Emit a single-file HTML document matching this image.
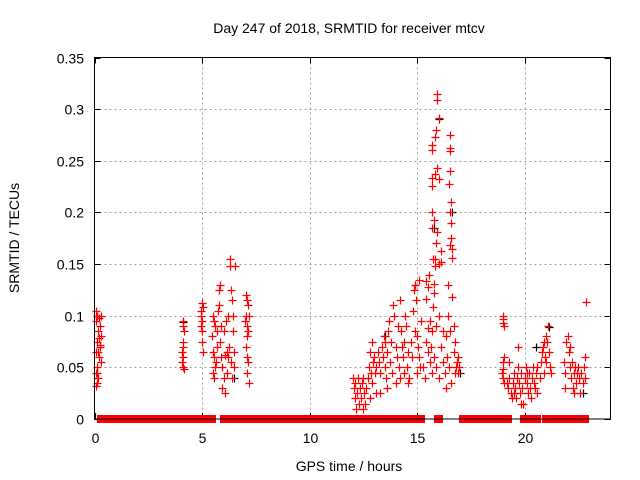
<!DOCTYPE html>
<html><head><meta charset="utf-8"><style>
html,body{margin:0;padding:0;background:#fff;}
svg{display:block;font-family:"Liberation Sans",sans-serif;}
</style></head><body>
<svg id="chart" width="640" height="480" viewBox="0 0 640 480" xmlns="http://www.w3.org/2000/svg">
<rect width="640" height="480" fill="#fff"/>
<text x="349" y="33" font-size="14" text-anchor="middle" fill="#000">Day 247 of 2018, SRMTID for receiver mtcv</text>
<text x="349" y="471" font-size="14" text-anchor="middle" fill="#000">GPS time / hours</text>
<text x="19" y="238" font-size="14" text-anchor="middle" fill="#000" transform="rotate(-90 19 238)">SRMTID / TECUs</text>
<g id="grid"></g>
<g id="ticks"></g>
<g id="zeros"></g>
<g id="marks"></g>
<rect x="94.5" y="57.5" width="516" height="361.5" fill="none" stroke="#000" stroke-width="1"/>
</svg>
<script>
const xTicks=[0,5,10,15,20];
const yTicks=[0,0.05,0.1,0.15,0.2,0.25,0.3,0.35];
const yTickLabels=["0","0.05","0.1","0.15","0.2","0.25","0.3","0.35"];
const redHours=[0.05,0.1,0.2,0.05,0.25,0.15,0.3,0.1,0.25,0.05,0.2,0.3,0.1,0.05,0.15,0.1,0.05,0.2,0.3,0.15,0.1,0.25,
4.1,4.1,4.15,4.1,4.1,4.05,4.1,4.05,4.1,4.15,
5.0,5.05,4.95,5.0,4.95,5.0,5.0,5.05,4.95,
5.5,5.55,5.6,5.45,5.5,5.55,5.6,5.5,5.55,5.65,5.7,5.75,5.8,5.85,5.8,5.9,5.85,5.9,5.95,6.0,5.95,6.05,6.0,6.1,6.15,6.2,6.25,6.3,6.3,6.35,6.4,6.45,6.45,6.5,6.5,6.55,6.4,6.35,6.2,6.15,5.7,6.05,
7.05,7.1,7.15,7.05,7.1,7.15,7.1,7.05,7.1,7.15,7.1,7.2,7.0,7.2,
12.0,12.05,12.1,12.1,12.15,12.2,12.25,12.3,12.35,12.4,12.45,12.5,12.55,12.6,12.65,12.7,12.75,12.8,12.85,12.9,12.95,13.0,13.05,12.9,13.1,12.8,12.5,13.1,
13.2,13.25,13.3,13.35,13.4,13.45,13.5,13.55,13.6,13.65,13.7,13.75,13.8,13.85,13.9,13.95,14.0,14.05,14.1,14.15,13.6,13.3,14.0,13.5,14.2,
14.25,14.3,14.35,14.4,14.45,14.5,14.55,14.6,14.65,14.7,14.75,14.8,14.85,14.9,14.95,15.0,15.05,15.1,15.15,15.0,14.9,15.2,14.6,14.4,15.1,14.2,
15.95,15.95,16.0,15.9,16.55,16.55,16.55,15.7,15.7,15.85,15.95,15.85,16.55,15.7,16.0,15.7,16.5,16.6,16.55,15.7,15.8,16.6,15.7,15.95,15.9,16.6,16.55,16.1,16.65,15.75,15.85,16.65,16.1,15.85,16.0,15.55,15.4,15.5,16.45,15.8,16.65,15.4,15.8,15.75,16.0,16.45,15.6,15.5,15.7,15.9,16.2,16.35,16.7,16.75,15.4,15.5,15.6,15.7,15.8,15.9,16.0,16.1,16.2,16.3,16.4,16.5,16.6,16.7,16.8,16.9,16.95,16.85,16.75,15.3,15.35,16.35,15.65,16.55,16.9,
19.0,19.0,19.0,19.05,19.05,19.0,19.0,18.95,19.0,19.05,
19.2,19.25,19.3,19.35,19.4,19.45,19.5,19.55,19.6,19.65,19.7,19.75,19.8,19.85,19.9,19.95,20.0,20.05,20.1,20.15,20.2,20.25,20.3,20.35,20.4,20.45,20.5,20.55,20.6,19.7,19.3,19.85,20.1,19.5,
20.6,20.7,20.75,20.8,20.85,20.9,20.95,21.0,21.05,21.1,21.15,21.2,21.25,21.0,20.9,
21.85,21.9,21.95,22.0,22.05,22.1,22.15,22.2,22.25,22.3,22.35,22.4,22.45,22.5,22.55,22.6,22.65,22.7,22.75,22.8,22.85,22.8,22.1,22.3,21.9];
const redValues=[0.105,0.1,0.098,0.095,0.09,0.085,0.08,0.075,0.072,0.065,0.06,0.055,0.05,0.045,0.04,0.035,0.032,0.078,0.1,0.065,0.045,0.07,
0.095,0.09,0.085,0.075,0.07,0.065,0.06,0.055,0.05,0.048,
0.112,0.108,0.105,0.095,0.09,0.085,0.075,0.065,0.1,
0.1,0.095,0.09,0.08,0.065,0.06,0.05,0.045,0.04,0.055,0.07,0.105,0.125,0.13,0.11,0.09,0.075,0.06,0.05,0.04,0.03,0.025,0.085,0.095,0.065,0.06,0.07,0.155,0.148,0.125,0.115,0.1,0.085,0.065,0.05,0.148,0.04,0.055,0.1,0.045,0.085,0.062,
0.12,0.115,0.11,0.1,0.09,0.085,0.08,0.07,0.06,0.055,0.045,0.035,0.095,0.1,
0.04,0.03,0.02,0.035,0.01,0.025,0.04,0.015,0.03,0.02,0.035,0.04,0.025,0.015,0.03,0.04,0.05,0.065,0.045,0.035,0.055,0.06,0.045,0.075,0.05,0.02,0.01,0.025,
0.065,0.055,0.045,0.07,0.06,0.08,0.05,0.04,0.065,0.085,0.095,0.055,0.075,0.045,0.11,0.1,0.07,0.06,0.09,0.05,0.03,0.025,0.035,0.075,0.115,
0.085,0.07,0.06,0.045,0.1,0.09,0.05,0.065,0.04,0.075,0.06,0.105,0.125,0.13,0.115,0.08,0.07,0.06,0.05,0.045,0.085,0.095,0.035,0.075,0.135,0.04,
0.315,0.309,0.291,0.28,0.275,0.262,0.259,0.265,0.26,0.273,0.243,0.237,0.24,0.233,0.232,0.226,0.228,0.21,0.2,0.2,0.193,0.19,0.185,0.181,0.17,0.175,0.168,0.163,0.165,0.155,0.155,0.156,0.152,0.148,0.15,0.139,0.134,0.128,0.13,0.131,0.118,0.116,0.122,0.108,0.1,0.1,0.095,0.088,0.085,0.09,0.085,0.08,0.09,0.075,0.075,0.065,0.055,0.045,0.06,0.05,0.04,0.07,0.055,0.045,0.06,0.05,0.035,0.065,0.05,0.045,0.05,0.055,0.045,0.05,0.04,0.03,0.07,0.085,0.06,
0.1,0.097,0.093,0.09,0.06,0.055,0.048,0.045,0.04,0.035,
0.035,0.03,0.04,0.025,0.02,0.035,0.045,0.03,0.02,0.04,0.05,0.035,0.025,0.045,0.03,0.015,0.04,0.05,0.035,0.025,0.045,0.03,0.02,0.04,0.05,0.035,0.03,0.045,0.025,0.07,0.055,0.015,0.045,0.025,
0.05,0.04,0.055,0.065,0.07,0.075,0.06,0.08,0.075,0.09,0.065,0.05,0.045,0.055,0.045,
0.055,0.045,0.075,0.08,0.065,0.05,0.04,0.055,0.03,0.045,0.05,0.035,0.045,0.05,0.04,0.025,0.045,0.035,0.05,0.04,0.113,0.06,0.07,0.025,0.03];
const blackHours=[0.12,4.12,16.02,15.77,16.62,21.12,22.72,6.47,13.52,17.0,20.52,14.92];
const blackValues=[0.1,0.094,0.29,0.185,0.2,0.089,0.025,0.04,0.08,0.045,0.07,0.13];
const zeroStart=[0.28,4.19,5.07,6.0,6.09,6.42,7.26,12.14,12.28,13.26,13.63,14.0,14.33,14.6,15.02,15.95,16.05,17.12,19.02,19.95,20.51,20.98,21.4,22.05,22.23,22.37,22.51,22.7];
const zeroEnd=[4.09,4.98,5.49,6.0,6.09,7.07,12.0,12.23,12.93,13.44,13.91,14.23,14.56,14.79,15.21,15.95,16.05,18.88,19.26,20.42,20.6,21.35,22.0,22.05,22.23,22.37,22.51,22.84];

const NS="http://www.w3.org/2000/svg";
const X0=94.5,X1=610.5,Y0=419,Y1=57.5,XMAX=24,YMAX=0.35;
function xs(h){return X0+(X1-X0)*h/XMAX;}
function ys(v){return Y0-(Y0-Y1)*v/YMAX;}
function mk(tag,attrs,parent){const e=document.createElementNS(NS,tag);for(const k in attrs)e.setAttribute(k,attrs[k]);parent.appendChild(e);return e;}
const grid=document.getElementById('grid'),ticks=document.getElementById('ticks');
yTicks.forEach((v,i)=>{
  const y=Math.round(ys(v))+0.5;
  if(i>0&&i<yTicks.length-1){const g=mk('line',{x1:X0,x2:X1,y1:y,y2:y,stroke:'#a0a0a0','stroke-dasharray':'2,3'},grid);
  
  }
  mk('line',{x1:X0,x2:X0+6,y1:y,y2:y,stroke:'#000'},ticks);
  mk('line',{x1:X1-6,x2:X1,y1:y,y2:y,stroke:'#000'},ticks);
  const t=mk('text',{x:84,y:y+5,'font-size':14,'text-anchor':'end',fill:'#000'},ticks);
  t.textContent=yTickLabels[i];
  
  
});
xTicks.forEach((h)=>{
  const x=Math.round(xs(h))+0.5;
  if(h>0){const g=mk('line',{x1:x,x2:x,y1:Y1,y2:Y0,stroke:'#a0a0a0','stroke-dasharray':'2,3'},grid);
  
  }
  mk('line',{x1:x,x2:x,y1:Y0,y2:Y0-6,stroke:'#000'},ticks);
  mk('line',{x1:x,x2:x,y1:Y1,y2:Y1+6,stroke:'#000'},ticks);
  const t=mk('text',{x:x,y:443,'font-size':14,'text-anchor':'middle',fill:'#000'},ticks);
  t.textContent=String(h);
  
  
});
const zeros=document.getElementById('zeros');
zeroStart.forEach((s,i)=>{
  const a=Math.round(xs(s)-3.5),b=Math.round(xs(zeroEnd[i])+3.5);
  const r=mk('rect',{x:a,y:415,width:b-a,height:8,fill:'#ff0000'},zeros);
  
  
});
const marks=document.getElementById('marks');
function cross(h,v,col,name){
  const x=Math.round(xs(h))+0.5,y=Math.round(ys(v))+0.5;
  const p=mk('path',{d:`M${x-4} ${y}H${x+4}M${x} ${y-4}V${y+4}`,stroke:col,'stroke-width':1.2,fill:'none'},marks);
  
  
}
blackHours.forEach((h,i)=>cross(h,blackValues[i],'#000','black-point'));
redHours.forEach((h,i)=>cross(h,redValues[i],'#ff0000','red-point'));
</script>
</body></html>
